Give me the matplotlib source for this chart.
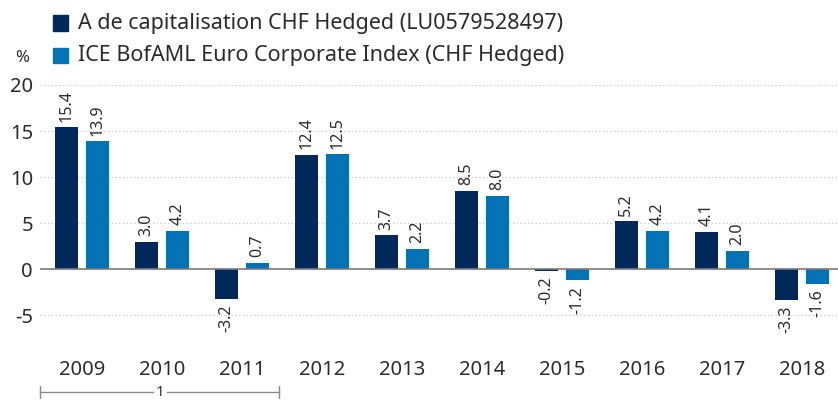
import numpy as np
import matplotlib
matplotlib.use("Agg")
import matplotlib.pyplot as plt

plt.rcParams['font.family'] = ['Noto Sans', 'DejaVu Sans']

# data
years = ['2009', '2010', '2011', '2012', '2013', '2014', '2015', '2016', '2017', '2018']
fund = [15.4, 3.0, -3.2, 12.4, 3.7, 8.5, -0.2, 5.2, 4.1, -3.3]
index = [13.9, 4.2, 0.7, 12.5, 2.2, 8.0, -1.2, 4.2, 2.0, -1.6]
series_names = ['A de capitalisation CHF Hedged (LU0579528497)',
                'ICE BofAML Euro Corporate Index (CHF Hedged)']
yticks = [-5, 0, 5, 10, 15, 20]

navy = '#00285a'
blue = '#0473b5'
txt = '#2b2b2b'

fig = plt.figure(figsize=(8.38, 4.03), dpi=100)
ax = fig.add_axes([40/838, 1 - 343/403, 1 - 40/838, (343 - 85)/403])

x = np.arange(len(years))
w = 0.29
off = 0.195
b1 = ax.bar(x - off, fund, w, color=navy, zorder=3)
b2 = ax.bar(x + off, index, w, color=blue, zorder=3)

# value labels, rotated
for bars, vals in [(b1, fund), (b2, index)]:
    for r, v in zip(bars, vals):
        cx = r.get_x() + r.get_width() / 2
        if v >= 0:
            ax.annotate(f'{v:.1f}', (cx, v), xytext=(0, 4), textcoords='offset points',
                        rotation=90, ha='center', va='bottom', fontsize=11.5, color=txt)
        else:
            ax.annotate(f'{v:.1f}', (cx, v), xytext=(0, -4), textcoords='offset points',
                        rotation=90, ha='center', va='top', fontsize=11.5, color=txt)

ax.set_ylim(-8, 20)
ax.set_xlim(-0.525, 9.45)
ax.set_yticks(yticks)
ax.set_yticklabels([str(t) for t in yticks])
for t in yticks:
    if t == 0:
        ax.axhline(0, color='#7a7a7a', lw=1.2, zorder=4)
    else:
        ax.axhline(t, color='#c8c8c8', lw=0.9, ls=(0, (1, 2)), zorder=1)

ax.set_xticks(x)
ax.set_xticklabels(years)
ax.tick_params(axis='both', length=0, labelsize=14.5, colors=txt)
ax.tick_params(axis='x', pad=12)
ax.tick_params(axis='y', pad=5)
for s in ax.spines.values():
    s.set_visible(False)

# legend drawn by hand
for i, (name, c) in enumerate(zip(series_names, [navy, blue])):
    yy = 1 - (23 + i * 32) / 403
    fig.patches.append(plt.Rectangle((53/838, yy - 7.5/403), 15/838, 15/403,
                                     transform=fig.transFigure, color=c, figure=fig))
    fig.text(78/838, yy, name, fontsize=15.5, color=txt, va='center', ha='left')

fig.text(22/838, 1 - 58/403, '%', fontsize=12, color=txt, va='center', ha='center')

# bracket under 2009-2011
by = 1 - 392/403
fig.add_artist(plt.Line2D([40/838, 153/838], [by, by], color='#8a8a8a', lw=1))
fig.add_artist(plt.Line2D([167/838, 279/838], [by, by], color='#8a8a8a', lw=1))
fig.add_artist(plt.Line2D([40/838, 40/838], [by - 6/403, by + 6/403], color='#8a8a8a', lw=1))
fig.add_artist(plt.Line2D([279/838, 279/838], [by - 6/403, by + 6/403], color='#8a8a8a', lw=1))
fig.text(160/838, by, '1', fontsize=11, color=txt, ha='center', va='center')

fig.savefig('out.png', dpi=100)
